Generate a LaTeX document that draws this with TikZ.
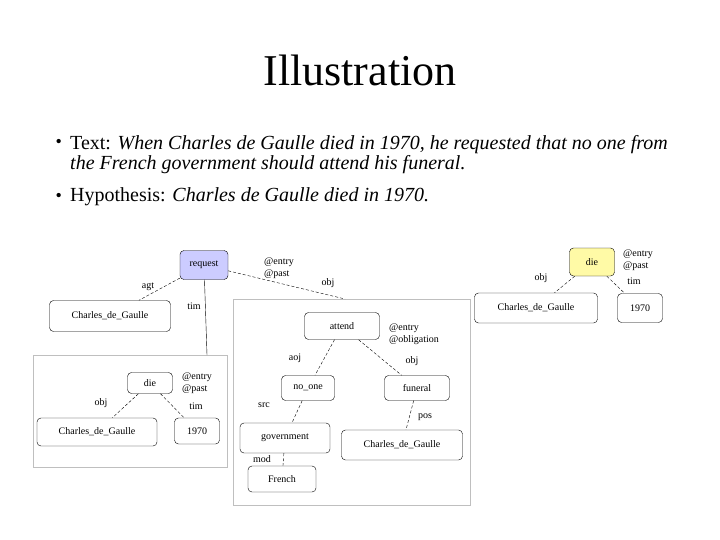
\documentclass[tikz,border=0pt]{standalone}
\usepackage{fontspec}
\setmainfont{Liberation Serif}
\usepackage{tikz}
\tikzstyle{concept} = [rectangle, rounded corners=4pt, draw=black, inner sep=0pt, font=\fontsize{10}{11}\selectfont]
\tikzstyle{rel} = [font=\fontsize{10}{11.5}\selectfont, inner sep=1pt]
\tikzstyle{frame} = [draw=black!25, line width=0.8pt]
\tikzstyle{link} = [densely dashed, line width=0.4pt]

\begin{document}
\begin{tikzpicture}[x=1pt,y=-1pt]
        \useasboundingbox (0,0) rectangle (720,540);

        \node (title) at (360,70) {\fontsize{44}{48}\selectfont Illustration};
        \node (b1) [anchor=west] at (52,143) {\fontsize{18}{20}\selectfont •};
        \node (t1) [anchor=west, align=left, inner sep=0pt] at (70,154.5)
            {\fontsize{20}{23}\selectfont Text: \textit{When Charles de Gaulle died in 1970, he requested that no one from}\\
             \fontsize{20}{23}\selectfont\textit{the French government should attend his funeral.}};
        \node (b2) [anchor=west] at (52,197) {\fontsize{18}{20}\selectfont •};
        \node (t2) [anchor=west, inner sep=0pt] at (70,197) {\fontsize{20}{23}\selectfont Hypothesis: \textit{Charles de Gaulle died in 1970.}};

        % frames
        \draw[frame] (33,355) rectangle (227,467);
        \draw[frame, fill=white] (233,299) rectangle (470,505);
        \coordinate (f1) at (207,355);
        \coordinate (f2) at (345,299);

        % text graph
        \node (req) [concept, fill=blue!20, minimum width=48pt, minimum height=29pt] at (204,265) {request};
        \node (cdg1) [concept, minimum width=121pt, minimum height=31pt] at (110,316) {Charles\_de\_Gaulle};
        \node () [rel, anchor=west, align=left] at (263,268) {@entry\\@past};
        \node () [rel] at (148,287) {agt};
        \node () [rel] at (194,306) {tim};
        \node () [rel] at (328,283) {obj};
        \draw[link] (req) -- (cdg1);
        \draw (req) -- (f1);
        \draw[link] (req) -- (f2);

        % die frame
        \node (die1) [concept, minimum width=45pt, minimum height=21pt] at (150,383) {die};
        \node (cdg2) [concept, minimum width=120pt, minimum height=28pt] at (97,432) {Charles\_de\_Gaulle};
        \node (y1) [concept, minimum width=45pt, minimum height=26pt] at (197,431) {1970};
        \node () [rel, anchor=west, align=left] at (181,383) {@entry\\@past};
        \node () [rel] at (196,406) {tim};
        \node () [rel] at (101,403) {obj};
        \draw[link] (die1) -- (cdg2);
        \draw[link] (die1) -- (y1);

        % attend frame
        \node (att) [concept, minimum width=75pt, minimum height=27pt] at (342,326) {attend};
        \node () [rel, anchor=west, align=left] at (388,334) {@entry\\@obligation};
        \node (no) [concept, minimum width=53pt, minimum height=25pt] at (308,388) {no\_one};
        \node (fun) [concept, minimum width=65pt, minimum height=25pt] at (417,388) {funeral};
        \node (gov) [concept, minimum width=90pt, minimum height=30pt] at (285,438) {government};
        \node (fr) [concept, minimum width=68pt, minimum height=26pt] at (282,479) {French};
        \node (cdg3) [concept, minimum width=121pt, minimum height=30pt] at (402,445) {Charles\_de\_Gaulle};
        \node () [rel] at (295,358) {aoj};
        \node () [rel] at (412,361) {obj};
        \node () [rel] at (264,405) {src};
        \node () [rel] at (262,459) {mod};
        \node () [rel] at (425,417) {pos};
        \draw[link] (att) -- (no);
        \draw[link] (att) -- (fun);
        \draw[link] (no) -- (gov);
        \draw[link] (gov) -- (fr);
        \draw[link] (fun) -- (cdg3);

        % hypothesis graph
        \node (die2) [concept, fill=yellow!35, minimum width=45pt, minimum height=28pt] at (592,262) {die};
        \node (cdg4) [concept, minimum width=123pt, minimum height=30pt] at (536,308) {Charles\_de\_Gaulle};
        \node (y2) [concept, minimum width=45pt, minimum height=29pt] at (640,308) {1970};
        \node () [rel, anchor=west, align=left] at (622,260) {@entry\\@past};
        \node () [rel] at (634,281) {tim};
        \node () [rel] at (541,278) {obj};
        \draw[link] (die2) -- (cdg4);
        \draw[link] (die2) -- (y2);
    \end{tikzpicture}
\end{document}
